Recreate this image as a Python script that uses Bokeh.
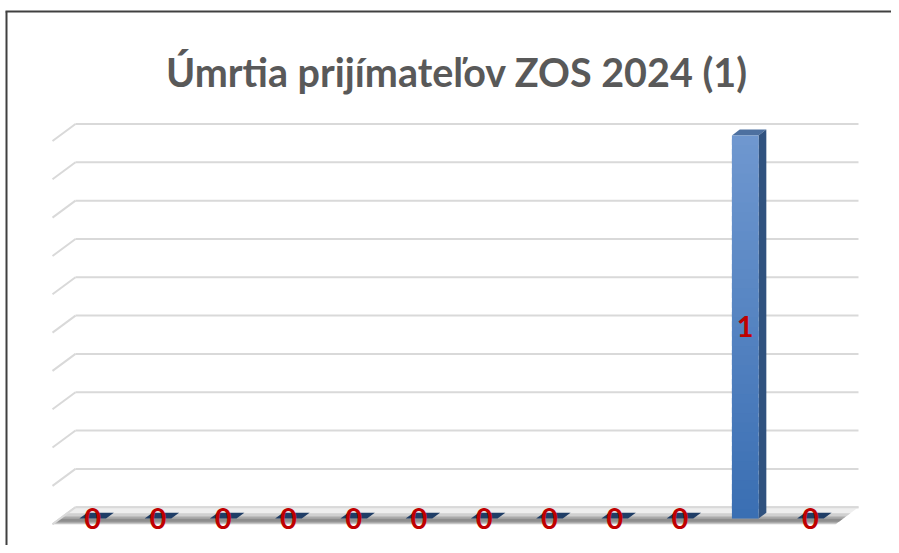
import numpy as np
from bokeh.plotting import figure
from bokeh.models import Range1d, ColumnDataSource
from bokeh.core.properties import value
from bokeh.embed import file_html
from bokeh.resources import INLINE

# ---------------- data ----------------
title_text = "Úmrtia prijímateľov ZOS 2024 (1)"
months = ["január", "február", "marec", "apríl", "máj", "jún",
          "júl", "august", "september", "október", "november", "december"]
deaths = [0, 0, 0, 0, 0, 0, 0, 0, 0, 0, 1, 0]
grid_values = [0.0, 0.1, 0.2, 0.3, 0.4, 0.5, 0.6, 0.7, 0.8, 0.9, 1.0]

# ---------------- layout (pixels of the figure) ----------------
W, Hh = 891, 545
CAT_PX = 65.25        # width of one category on the back wall
UNIT_PX = 383.2       # pixels for a value of 1.0
X0, Y0 = 75.0, 506.7  # position of back-wall origin
DEPTH_X, DEPTH_Y = -23.0, 17.0   # offset from back wall to front of floor (px)

def gx(px):
    return (px - X0) / CAT_PX

def gy(py):
    return (Y0 - py) / UNIT_PX

DX = DEPTH_X / CAT_PX
DY = -DEPTH_Y / UNIT_PX
F_FRONT, F_BACK = 0.67, 0.33
HALF_W = 26.6 / CAT_PX / 2
N = len(months)

p = figure(width=W, height=Hh, output_backend="svg", toolbar_location=None,
           x_range=Range1d(gx(0), gx(W)), y_range=Range1d(gy(Hh), gy(0)),
           x_axis_location=None, y_axis_location=None, min_border=0,
           outline_line_color=None, background_fill_color="white",
           border_fill_color="white")
p.grid.visible = False

# ---------------- back wall gridlines + side wall ticks ----------------
gv = np.array(grid_values)
p.segment(x0=np.zeros_like(gv), y0=gv, x1=np.full_like(gv, N), y1=gv,
          line_color="#d9d9d9", line_width=2)
p.segment(x0=np.zeros_like(gv), y0=gv, x1=np.full_like(gv, DX), y1=gv + DY,
          line_color="#d9d9d9", line_width=2)

# ---------------- floor ----------------
def floor_band(f0, f1, color, alpha):
    xs = [0 + f0 * DX, N + f0 * DX, N + f1 * DX, 0 + f1 * DX]
    ys = [f0 * DY, f0 * DY, f1 * DY, f1 * DY]
    p.patch(xs, ys, fill_color=color, fill_alpha=alpha, line_color=None)

floor_band(0.0, 1.0, "#eeeeee", 1.0)
floor_band(0.35, 1.0, "#c8c8c8", 0.8)
floor_band(0.55, 0.95, "#a0a0a0", 0.8)
floor_band(0.68, 0.85, "#808080", 0.7)
p.segment(x0=[0], y0=[0], x1=[N], y1=[0], line_color="#d9d9d9", line_width=2)
p.segment(x0=[0], y0=[0], x1=[DX], y1=[DY], line_color="#d9d9d9", line_width=2)

# ---------------- 3D bars ----------------
vals = np.array(deaths, dtype=float)
centers = np.arange(N) + 0.5
left_f = centers - HALF_W + F_FRONT * DX
right_f = centers + HALF_W + F_FRONT * DX
left_b = centers - HALF_W + F_BACK * DX
right_b = centers + HALF_W + F_BACK * DX
yb_f = F_FRONT * DY
yb_b = F_BACK * DY

# top faces
top_xs = [[l, r, rb, lb] for l, r, lb, rb in zip(left_f, right_f, left_b, right_b)]
top_ys = [[v + yb_f, v + yb_f, v + yb_b, v + yb_b] for v in vals]
top_colors = ["#1f3d66" if v == 0 else "#4d70a0" for v in vals]
p.patches(xs=top_xs, ys=top_ys, fill_color=top_colors, line_color=None)

# side faces
side_xs = [[r, rb, rb, r] for r, rb in zip(right_f, right_b)]
side_ys = [[yb_f, yb_b, v + yb_b, v + yb_f] for v in vals]
p.patches(xs=side_xs, ys=side_ys, fill_color="#30527f", line_color=None)

# front faces with vertical gradient (overlapping slices, no seams)
top_c = np.array([0x70, 0x98, 0xd0])
bot_c = np.array([0x3a, 0x6f, 0xb3])
nsl = 40
for i, v in enumerate(vals):
    if v <= 0:
        continue
    edges = np.linspace(yb_f, v + yb_f, nsl + 1)
    step = edges[1] - edges[0]
    t = (np.arange(nsl) + 0.5) / nsl
    cols = ["#%02x%02x%02x" % tuple(int(c) for c in (bot_c + (top_c - bot_c) * tt)) for tt in t]
    tops = edges[1:].copy()
    tops[:-1] += step * 0.6
    p.quad(left=np.full(nsl, left_f[i]), right=np.full(nsl, right_f[i]),
           bottom=edges[:-1], top=tops, fill_color=cols, line_color=None)

# ---------------- data labels ----------------
lab = ColumnDataSource(dict(x=centers + F_FRONT * DX, y=vals / 2 + yb_f,
                            t=[str(int(v)) for v in vals]))
p.text(x="x", y="y", text="t", source=lab, text_font=value("Lato"),
       text_font_style="bold", text_font_size="29px", text_color="#c00000",
       text_align="center", text_baseline="middle")

# ---------------- title ----------------
p.text(x=[gx(456.5)], y=[gy(71.0)], text=[title_text], text_font=value("Lato"),
       text_font_style="bold", text_font_size="39.5px", text_color="#595959",
       text_align="center", text_baseline="alphabetic")

# ---------------- chart border ----------------
p.segment(x0=[gx(5)], y0=[gy(11)], x1=[gx(W)], y1=[gy(11)],
          line_color="#404040", line_width=2)
p.segment(x0=[gx(6)], y0=[gy(11)], x1=[gx(6)], y1=[gy(Hh)],
          line_color="#404040", line_width=2)

open("out.html", "w").write(file_html(p, INLINE))
